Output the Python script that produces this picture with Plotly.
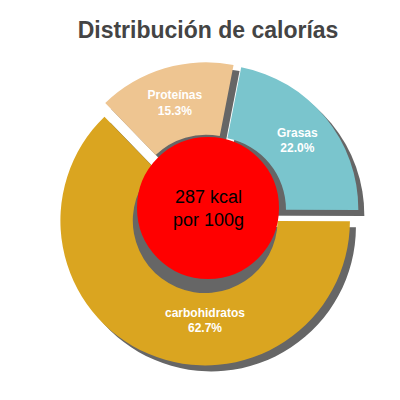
import plotly.graph_objects as go

labels = ["Grasas", "carbohidratos", "Proteínas"]
values = [22.0, 62.7, 15.3]
colors = ["#7ac5cd", "#daa520", "#eec591"]
center_text = "287 kcal<br>por 100g"
title = "Distribución de calorías"

fig = go.Figure()

# shadow
fig.add_trace(go.Pie(
    labels=labels, values=values, sort=False, direction="clockwise",
    rotation=11, pull=0.05, hole=0.0, textinfo="none", hoverinfo="skip",
    marker=dict(colors=["#666666"] * 3), showlegend=False,
    domain=dict(x=[0.135, 0.895], y=[0.07, 0.87]),
))

fig.add_trace(go.Pie(
    labels=labels, values=values, sort=False, direction="clockwise",
    rotation=11, pull=0.05, hole=0.5,
    texttemplate="<b>%{label}</b><br><b>%{value:.1f}%</b>", textposition="inside",
    insidetextorientation="horizontal",
    textfont=dict(color="white", size=12, family="Liberation Sans, Arial"),
    marker=dict(colors=colors), showlegend=False,
    domain=dict(x=[0.12, 0.88], y=[0.085, 0.885]),
))

fig.add_shape(type="circle", xref="paper", yref="paper",
              x0=0.5 - 0.175, x1=0.5 + 0.175, y0=0.5 - 0.175, y1=0.5 + 0.175,
              fillcolor="red", line=dict(color="red"))
fig.add_annotation(text=center_text, x=0.5, y=0.5, xref="paper", yref="paper",
                   showarrow=False, font=dict(size=18, color="black", family="Liberation Sans, Arial"))

fig.update_layout(
    width=400, height=400, margin=dict(l=0, r=0, t=0, b=0),
    paper_bgcolor="white", plot_bgcolor="white",
    title=dict(text="<b>" + title + "</b>", x=0.5, y=0.965, xanchor="center",
               font=dict(size=23, color="#444444", family="Liberation Sans, Arial")),
)

fig.write_html("out.html")
